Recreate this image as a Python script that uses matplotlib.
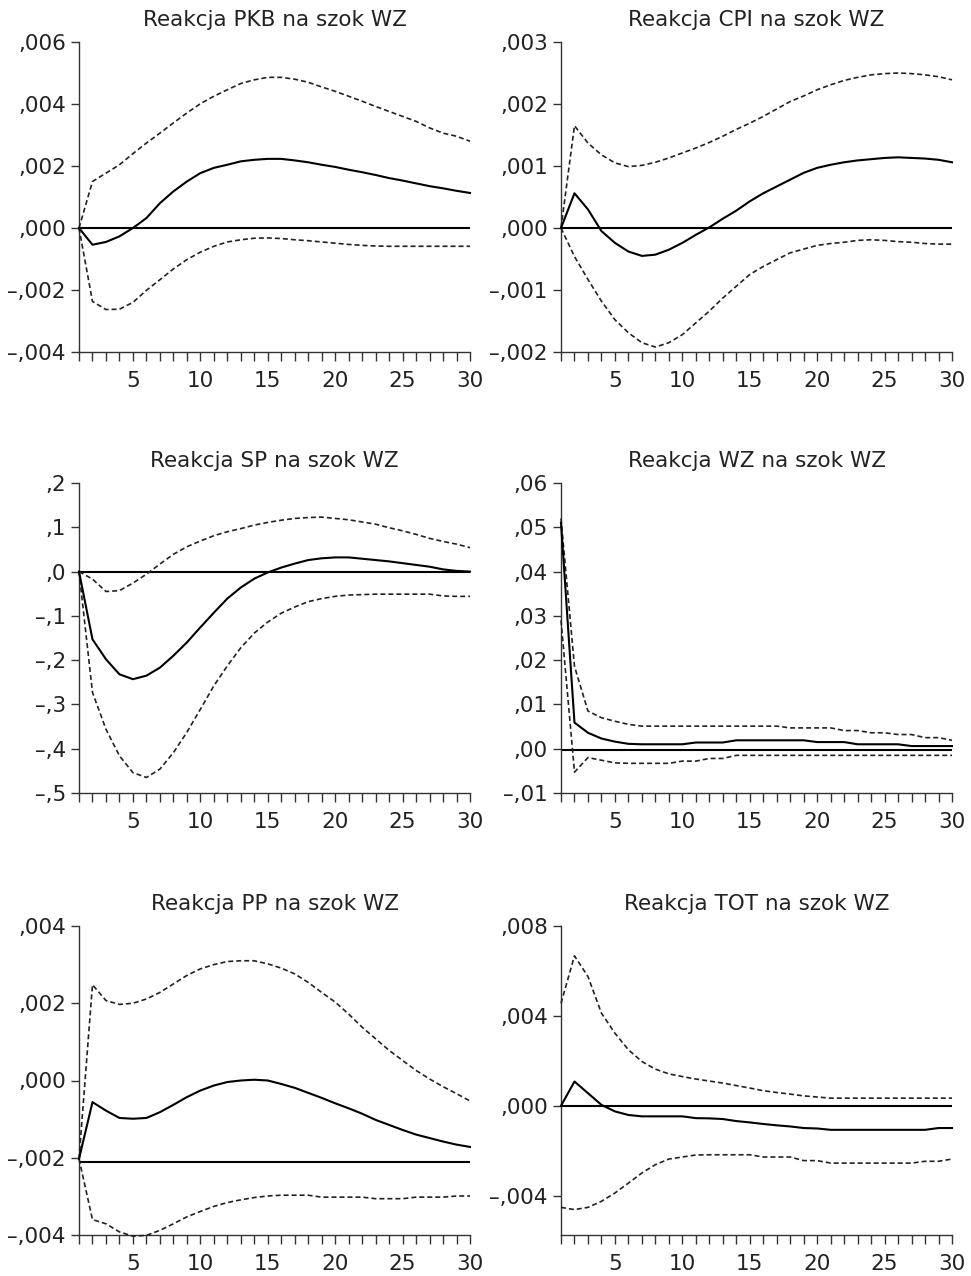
import matplotlib
matplotlib.use("Agg")
import matplotlib.pyplot as plt

plt.rcParams['font.family'] = ['DejaVu Sans']

periods = list(range(1, 31))

# ---------- PKB ----------
pkb_title = "Reakcja PKB na szok WZ"
pkb_irf = [0, -0.00054, -0.00045, -0.00027, 0.0, 0.00032, 0.0008, 0.00118, 0.0015, 0.00177,
           0.00194, 0.00204, 0.00215, 0.0022, 0.00223, 0.00223, 0.00218, 0.00212, 0.00204, 0.00197,
           0.00188, 0.0018, 0.00171, 0.00161, 0.00153, 0.00144, 0.00135, 0.00128, 0.0012, 0.00113]
pkb_up = [0, 0.0015, 0.00177, 0.00204, 0.0024, 0.00274, 0.00306, 0.00339, 0.00371, 0.00401,
          0.00425, 0.00446, 0.00466, 0.00478, 0.00486, 0.00486, 0.0048, 0.0047, 0.00455, 0.00441,
          0.00425, 0.00409, 0.00392, 0.00376, 0.0036, 0.00344, 0.00323, 0.00306, 0.00296, 0.0028]
pkb_lo = [0, -0.00237, -0.00263, -0.00262, -0.0024, -0.00201, -0.00167, -0.00132, -0.00102, -0.00078,
          -0.00059, -0.00045, -0.00038, -0.00033, -0.00032, -0.00034, -0.00038, -0.00041, -0.00045, -0.00049,
          -0.00053, -0.00056, -0.00058, -0.00059, -0.00059, -0.00059, -0.00059, -0.00059, -0.00059, -0.00059]
pkb_ref = 0.0
pkb_yticks = [-0.004, -0.002, 0.0, 0.002, 0.004, 0.006]
pkb_yticklabels = ["–,004", "–,002", ",000", ",002", ",004", ",006"]
pkb_ylim = (-0.004, 0.006)

# ---------- CPI ----------
cpi_title = "Reakcja CPI na szok WZ"
cpi_irf = [0, 0.00056, 0.0003, -0.00005, -0.00024, -0.00038, -0.00045, -0.00043, -0.00035, -0.00024,
           -0.00011, 0.00001, 0.00015, 0.00028, 0.00043, 0.00056, 0.00067, 0.00078, 0.00089, 0.00097,
           0.00102, 0.00106, 0.00109, 0.00111, 0.00113, 0.00114, 0.00113, 0.00112, 0.0011, 0.00106]
cpi_up = [0, 0.00165, 0.00137, 0.00118, 0.00105, 0.00099, 0.00101, 0.00106, 0.00113, 0.00121,
          0.00129, 0.00138, 0.00148, 0.00159, 0.00169, 0.0018, 0.00192, 0.00204, 0.00213, 0.00223,
          0.00231, 0.00238, 0.00243, 0.00247, 0.00249, 0.0025, 0.00249, 0.00247, 0.00244, 0.00239]
cpi_lo = [0, -0.00046, -0.00083, -0.00118, -0.00148, -0.00169, -0.00185, -0.00192, -0.00185, -0.00172,
          -0.00153, -0.00134, -0.00113, -0.00094, -0.00075, -0.00062, -0.00051, -0.0004, -0.00034, -0.00028,
          -0.00025, -0.00023, -0.0002, -0.00019, -0.0002, -0.00022, -0.00023, -0.00025, -0.00026, -0.00026]
cpi_ref = 0.0
cpi_yticks = [-0.002, -0.001, 0.0, 0.001, 0.002, 0.003]
cpi_yticklabels = ["–,002", "–,001", ",000", ",001", ",002", ",003"]
cpi_ylim = (-0.002, 0.003)

# ---------- SP ----------
sp_title = "Reakcja SP na szok WZ"
sp_irf = [0, -0.153, -0.198, -0.232, -0.243, -0.235, -0.217, -0.19, -0.16, -0.126,
          -0.093, -0.061, -0.036, -0.016, -0.002, 0.009, 0.018, 0.026, 0.03, 0.032,
          0.032, 0.029, 0.026, 0.023, 0.019, 0.015, 0.011, 0.005, 0.0015, 0.0]
sp_up = [0, -0.017, -0.045, -0.043, -0.026, -0.006, 0.017, 0.039, 0.056, 0.069,
         0.081, 0.09, 0.097, 0.105, 0.111, 0.116, 0.12, 0.122, 0.123, 0.12,
         0.117, 0.112, 0.107, 0.099, 0.092, 0.084, 0.075, 0.068, 0.062, 0.054]
sp_lo = [0, -0.273, -0.356, -0.416, -0.454, -0.465, -0.446, -0.409, -0.363, -0.311,
         -0.258, -0.213, -0.172, -0.139, -0.114, -0.094, -0.08, -0.068, -0.061, -0.056,
         -0.053, -0.052, -0.051, -0.051, -0.051, -0.051, -0.051, -0.055, -0.056, -0.056]
sp_ref = 0.0
sp_yticks = [-0.5, -0.4, -0.3, -0.2, -0.1, 0.0, 0.1, 0.2]
sp_yticklabels = ["–,5", "–,4", "–,3", "–,2", "–,1", ",0", ",1", ",2"]
sp_ylim = (-0.5, 0.2)

# ---------- WZ ----------
wz_title = "Reakcja WZ na szok WZ"
wz_irf = [0.051, 0.0059, 0.0036, 0.0023, 0.0016, 0.0011, 0.001, 0.001, 0.001, 0.001,
          0.0014, 0.0014, 0.0014, 0.0019, 0.0019, 0.0019, 0.0019, 0.0019, 0.0019, 0.0015,
          0.0015, 0.0015, 0.001, 0.001, 0.001, 0.001, 0.0006, 0.0006, 0.0006, 0.0006]
wz_up = [0.052, 0.0186, 0.0085, 0.007, 0.0062, 0.0055, 0.0051, 0.0051, 0.0051, 0.0051,
         0.0051, 0.0051, 0.0051, 0.0051, 0.0051, 0.0051, 0.0051, 0.0047, 0.0047, 0.0047,
         0.0047, 0.0041, 0.0041, 0.0036, 0.0036, 0.0032, 0.0032, 0.0025, 0.0025, 0.0019]
wz_lo = [0.029, -0.0053, -0.002, -0.0026, -0.0032, -0.0033, -0.0033, -0.0033, -0.0033, -0.0028,
         -0.0028, -0.0022, -0.0022, -0.0015, -0.0015, -0.0015, -0.0015, -0.0015, -0.0015, -0.0015,
         -0.0015, -0.0015, -0.0015, -0.0015, -0.0015, -0.0015, -0.0015, -0.0015, -0.0015, -0.0015]
wz_ref = -0.0003
wz_yticks = [-0.01, 0.0, 0.01, 0.02, 0.03, 0.04, 0.05, 0.06]
wz_yticklabels = ["–,01", ",00", ",01", ",02", ",03", ",04", ",05", ",06"]
wz_ylim = (-0.01, 0.06)

# ---------- PP ----------
pp_title = "Reakcja PP na szok WZ"
pp_irf = [-0.00203, -0.00056, -0.00078, -0.00097, -0.00099, -0.00097, -0.00082, -0.00063, -0.00043, -0.00026,
          -0.00013, -0.00004, 0.0, 0.00002, 0.0, -0.00009, -0.00019, -0.00032, -0.00045, -0.00059,
          -0.00072, -0.00086, -0.00102, -0.00115, -0.00128, -0.0014, -0.00149, -0.00158, -0.00166, -0.00172]
pp_up = [-0.00203, 0.00248, 0.00207, 0.00197, 0.002, 0.00211, 0.00228, 0.0025, 0.00272, 0.00289,
         0.003, 0.00308, 0.0031, 0.0031, 0.00302, 0.00291, 0.00276, 0.00254, 0.00228, 0.00203,
         0.00172, 0.00138, 0.00108, 0.00078, 0.00052, 0.00026, 0.00004, -0.00016, -0.00034, -0.00053]
pp_lo = [-0.00203, -0.0036, -0.00371, -0.00392, -0.00403, -0.00401, -0.00388, -0.00371, -0.00353, -0.00339,
         -0.00326, -0.00316, -0.00309, -0.00303, -0.00299, -0.00297, -0.00297, -0.00297, -0.00302, -0.00302,
         -0.00302, -0.00302, -0.00306, -0.00306, -0.00306, -0.00302, -0.00302, -0.00302, -0.00299, -0.00299]
pp_ref = -0.00211
pp_yticks = [-0.004, -0.002, 0.0, 0.002, 0.004]
pp_yticklabels = ["–,004", "–,002", ",000", ",002", ",004"]
pp_ylim = (-0.004, 0.004)

# ---------- TOT ----------
tot_title = "Reakcja TOT na szok WZ"
tot_irf = [0, 0.00108, 0.00056, 0.00004, -0.00025, -0.00041, -0.00047, -0.00047, -0.00047, -0.00047,
           -0.00055, -0.00056, -0.00059, -0.00068, -0.00074, -0.00081, -0.00087, -0.00092, -0.00099, -0.00101,
           -0.00107, -0.00107, -0.00107, -0.00107, -0.00107, -0.00107, -0.00107, -0.00107, -0.00099, -0.00099]
tot_up = [0.00456, 0.00667, 0.00575, 0.00412, 0.00323, 0.00249, 0.00197, 0.00163, 0.00142, 0.0013,
          0.00119, 0.0011, 0.00101, 0.0009, 0.00079, 0.00067, 0.00059, 0.00052, 0.00044, 0.00039,
          0.00034, 0.00034, 0.00034, 0.00034, 0.00034, 0.00034, 0.00034, 0.00034, 0.00034, 0.00034]
tot_lo = [-0.00452, -0.00462, -0.00452, -0.00425, -0.00388, -0.00344, -0.00299, -0.00262, -0.00237, -0.00228,
          -0.00219, -0.00218, -0.00218, -0.00218, -0.00218, -0.00228, -0.00228, -0.00228, -0.00244, -0.00244,
          -0.00255, -0.00255, -0.00255, -0.00255, -0.00255, -0.00255, -0.00255, -0.00247, -0.00247, -0.00237]
tot_ref = 0.0
tot_yticks = [-0.004, 0.0, 0.004, 0.008]
tot_yticklabels = ["–,004", ",000", ",004", ",008"]
tot_ylim = (-0.00575, 0.008)

xtick_labels = [str(p) if p % 5 == 0 else "" for p in periods]

panels = [
    (pkb_title, pkb_irf, pkb_up, pkb_lo, pkb_ref, pkb_yticks, pkb_yticklabels, pkb_ylim),
    (cpi_title, cpi_irf, cpi_up, cpi_lo, cpi_ref, cpi_yticks, cpi_yticklabels, cpi_ylim),
    (sp_title, sp_irf, sp_up, sp_lo, sp_ref, sp_yticks, sp_yticklabels, sp_ylim),
    (wz_title, wz_irf, wz_up, wz_lo, wz_ref, wz_yticks, wz_yticklabels, wz_ylim),
    (pp_title, pp_irf, pp_up, pp_lo, pp_ref, pp_yticks, pp_yticklabels, pp_ylim),
    (tot_title, tot_irf, tot_up, tot_lo, tot_ref, tot_yticks, tot_yticklabels, tot_ylim),
]

W, H = 971, 1276
fig = plt.figure(figsize=(W / 100, H / 100), dpi=100)

lefts = [79, 561]
rows = [(42, 352), (483, 793), (926, 1235)]
axw = 391

FS = 15.5
for i, (title, irf, up, lo, ref, yt, ytl, ylim) in enumerate(panels):
    r, c = divmod(i, 2)
    top, bot = rows[r]
    ax = fig.add_axes([lefts[c] / W, 1 - bot / H, axw / W, (bot - top) / H])
    ax.axhline(ref, color='black', lw=1.5, zorder=2)
    ax.plot(periods, up, color='#222222', lw=1.2, ls=(0, (3, 1.8)), clip_on=False, zorder=3)
    ax.plot(periods, lo, color='#222222', lw=1.2, ls=(0, (3, 1.8)), clip_on=False, zorder=3)
    ax.plot(periods, irf, color='black', lw=1.5, clip_on=False, zorder=4)
    ax.set_xlim(1, 30)
    ax.set_ylim(*ylim)
    ax.set_xticks(periods)
    ax.set_xticklabels(xtick_labels)
    ax.set_yticks(yt)
    ax.set_yticklabels(ytl)
    for s in ('top', 'right'):
        ax.spines[s].set_visible(False)
    for s in ('left', 'bottom'):
        ax.spines[s].set_linewidth(1.0)
        ax.spines[s].set_color('#333333')
    ax.tick_params(axis='x', direction='out', length=6.5, width=1.0, color='#333333',
                   pad=7, labelsize=FS, labelcolor='#222222')
    ax.tick_params(axis='y', direction='out', length=6, width=1.0, color='#333333',
                   pad=3.5, labelsize=FS, labelcolor='#222222')
    ax.set_title(title, fontsize=FS, color='#222222', pad=11.5)

fig.savefig("out.png", dpi=100)
